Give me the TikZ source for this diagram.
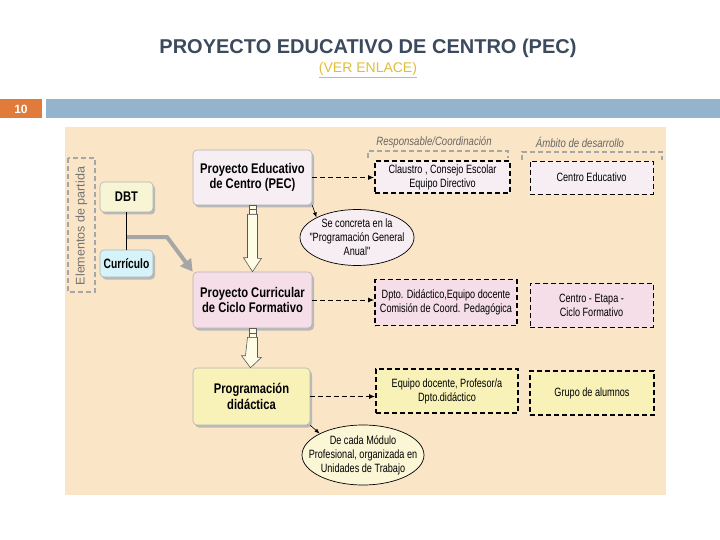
\documentclass[tikz,border=0pt]{standalone}
\usepackage{fontspec}
\setmainfont{Liberation Sans}
\newfontfamily\nar[FakeStretch=0.8]{Liberation Sans}
\newfontfamily\narr[FakeStretch=0.76]{Liberation Sans}
\usetikzlibrary{shapes.geometric,shadows,arrows.meta,calc}
\definecolor{bgbeige}{HTML}{FBE5C7}
\definecolor{titlecol}{HTML}{3B4A5C}
\definecolor{linkcol}{HTML}{E0BE3A}
\definecolor{orangebox}{HTML}{E07B3C}
\definecolor{bluebar}{HTML}{94B3CD}
\definecolor{pecfill}{HTML}{F6EEF2}
\definecolor{pinkfill}{HTML}{F5DEE8}
\definecolor{yelfill}{HTML}{F8F2B8}
\definecolor{dbtfill}{HTML}{F8F5D5}
\definecolor{curfill}{HTML}{D5F3F8}
\definecolor{ellyel}{HTML}{FAF6D6}
\definecolor{hollowfill}{HTML}{FFFCE6}
\tikzset{
  mainbox/.style={draw=gray!60, rounded corners=4pt, line width=0.6pt, align=center,
    font=\nar\bfseries\fontsize{14}{15.5}\selectfont, inner sep=2pt,
    drop shadow={shadow xshift=2pt, shadow yshift=-2.5pt, fill=gray!55, opacity=1}},
  thickdash/.style={draw=black, line width=1.8pt, dash pattern=on 5pt off 3pt, align=center,
    font=\narr\fontsize{12}{14}\selectfont, inner sep=1pt},
  thindash/.style={draw=black, line width=0.9pt, dash pattern=on 5pt off 3pt, align=center,
    font=\narr\fontsize{12}{14}\selectfont, inner sep=1pt},
  ell/.style={ellipse, draw=black, line width=0.7pt, inner sep=0pt},
  elltext/.style={align=center, inner sep=0pt, font=\narr\fontsize{12}{14}\selectfont},
  dasharr/.style={draw=black, line width=1.3pt, dash pattern=on 5pt off 3pt, -{Latex[length=6pt,width=5pt]}},
  thinarr/.style={draw=black, line width=0.6pt, -{Latex[length=5pt,width=4pt]}},
  hollow/.style={draw=gray!70!black, line width=0.6pt, fill=hollowfill},
  hdr/.style={font=\nar\itshape\fontsize{12}{14}\selectfont, text=gray!80!black},
  bracket/.style={draw=gray!70, line width=1.2pt, dash pattern=on 5pt off 3pt}
}
\begin{document}
\begin{tikzpicture}[x=1pt,y=-1pt]
\useasboundingbox (0,0) rectangle (720,540);
\fill[white] (0,0) rectangle (720,540);
% header
\node[font=\bfseries\fontsize{20}{24}\selectfont, text=titlecol] (title) at (368,48) {PROYECTO EDUCATIVO DE CENTRO (PEC)};
\node[font=\fontsize{14}{16}\selectfont, text=linkcol] (link) at (368,70) {\underline{(VER ENLACE)}};
\node[fill=orangebox, minimum width=42pt, minimum height=19pt, inner sep=0pt, text=white,
  font=\bfseries\fontsize{12}{14}\selectfont] (num) at (21,109) {10};
\fill[bluebar] (46,99.5) rectangle (720,118.5);
% background panel
\fill[bgbeige] (65,127) rectangle (666,495);
% elementos de partida
\draw[bracket, line width=1.2pt] (68,158) rectangle (95,292);
\node[rotate=90, font=\fontsize{12.5}{14}\selectfont, text=gray!90!black] (elem) at (81.5,226) {Elementos de partida};
% left boxes
\node[mainbox, fill=dbtfill, minimum width=53pt, minimum height=30pt] (dbt) at (126.5,197) {DBT};
\node[mainbox, fill=curfill, minimum width=53pt, minimum height=27pt, font=\narr\bfseries\fontsize{13.5}{15}\selectfont] (cur) at (126.5,263.5) {Currículo};
\node[mainbox, fill=pecfill, minimum width=119pt, minimum height=55pt] (pec) at (252.5,177.5) {Proyecto Educativo\\de Centro (PEC)};
\node[mainbox, fill=pinkfill, minimum width=119pt, minimum height=56pt] (pcc) at (252.5,300) {Proyecto Curricular\\de Ciclo Formativo};
\node[mainbox, fill=yelfill, minimum width=117pt, minimum height=57pt] (prog) at (251.5,396.5) {Programación\\didáctica};
% connectors left
\draw[black, line width=0.8pt] (dbt.south) -- (cur.north);
\coordinate (jn) at (127,237);
\draw[gray!70, line width=4pt, -{Triangle[length=12pt,width=13pt]}] (jn) -- (167,237) -- (pcc.north west);
% ellipses
\node[ell, fill=pecfill, minimum width=114pt, minimum height=56pt] (e1) at (357,237.5) {};
\node[elltext] (e1t) at (e1.center) {Se concreta en la\\"Programación General\\Anual"};
\node[ell, fill=ellyel, minimum width=122pt, minimum height=60pt] (e2) at (363,455) {};
\node[elltext] (e2t) at (e2.center) {De cada Módulo\\Profesional, organizada en\\Unidades de Trabajo};
\draw[thinarr] (pec.south east) -- (e1.north west);
\draw[thinarr] (prog.south east) -- (e2.north west);
% hollow arrows
\draw[hollow] (pec.south) ++(-3.5,0) rectangle ++(7,9);
\draw[hollow] (pec.south) ++(-3.5,4.5) -- ++(7,0);
\draw[hollow] (pec.south) ++(-5,9) -- ++(10,0) -- ++(0,44) -- ++(4,0) -- (pcc.north) -- ++(-9,-14) -- ++(4,0) -- cycle;
\draw[hollow] (pcc.south) ++(-3.5,0) rectangle ++(7,9);
\draw[hollow] (pcc.south) ++(-3.5,4.5) -- ++(7,0);
\draw[hollow] (pcc.south) ++(-5,9) -- ++(10,0) -- ++(0,20) -- ++(4,0) -- ([xshift=-1pt]prog.north) -- ++(-9,-12) -- ++(4,0) -- cycle;
% headers
\node[hdr] (h1) at (434,142) {Responsable/Coordinación};
\node[hdr] (h2) at (580,142) {Ámbito de desarrollo};
\draw[bracket] (368,158) -- (368,151) -- (508,151) -- (508,158);
\draw[bracket] (522,160) -- (522,152) -- (662,152) -- (662,160);
% right boxes
\node[thickdash, fill=pecfill, minimum width=135pt, minimum height=32pt] (cla) at (442.5,177) {Claustro , Consejo Escolar\\Equipo Directivo};
\node[thindash, fill=pecfill, minimum width=123pt, minimum height=33pt] (ced) at (591.5,177.5) {Centro Educativo};
\node[thickdash, fill=pinkfill, minimum width=142pt, minimum height=46pt] (dpto) at (446,302.5) {Dpto. Didáctico,Equipo docente\\Comisión de Coord. Pedagógica};
\node[thindash, fill=pinkfill, minimum width=123pt, minimum height=44pt] (cet) at (591.5,305) {Centro - Etapa -\\Ciclo Formativo};
\node[thickdash, fill=yelfill, minimum width=142pt, minimum height=44pt] (equ) at (447,391) {Equipo docente, Profesor/a\\Dpto.didáctico};
\node[thindash, line width=1.3pt, fill=yelfill, minimum width=124pt, minimum height=44pt] (gru) at (592,393) {Grupo de alumnos};
% dashed arrows
\draw[dasharr] (pec.east) -- (cla.west |- pec.east);
\draw[dasharr, line width=0.9pt] (pcc.east) -- (dpto.west |- pcc.east);
\draw[dasharr, line width=1.8pt] (prog.east) -- (equ.west |- prog.east);
\end{tikzpicture}
\end{document}
